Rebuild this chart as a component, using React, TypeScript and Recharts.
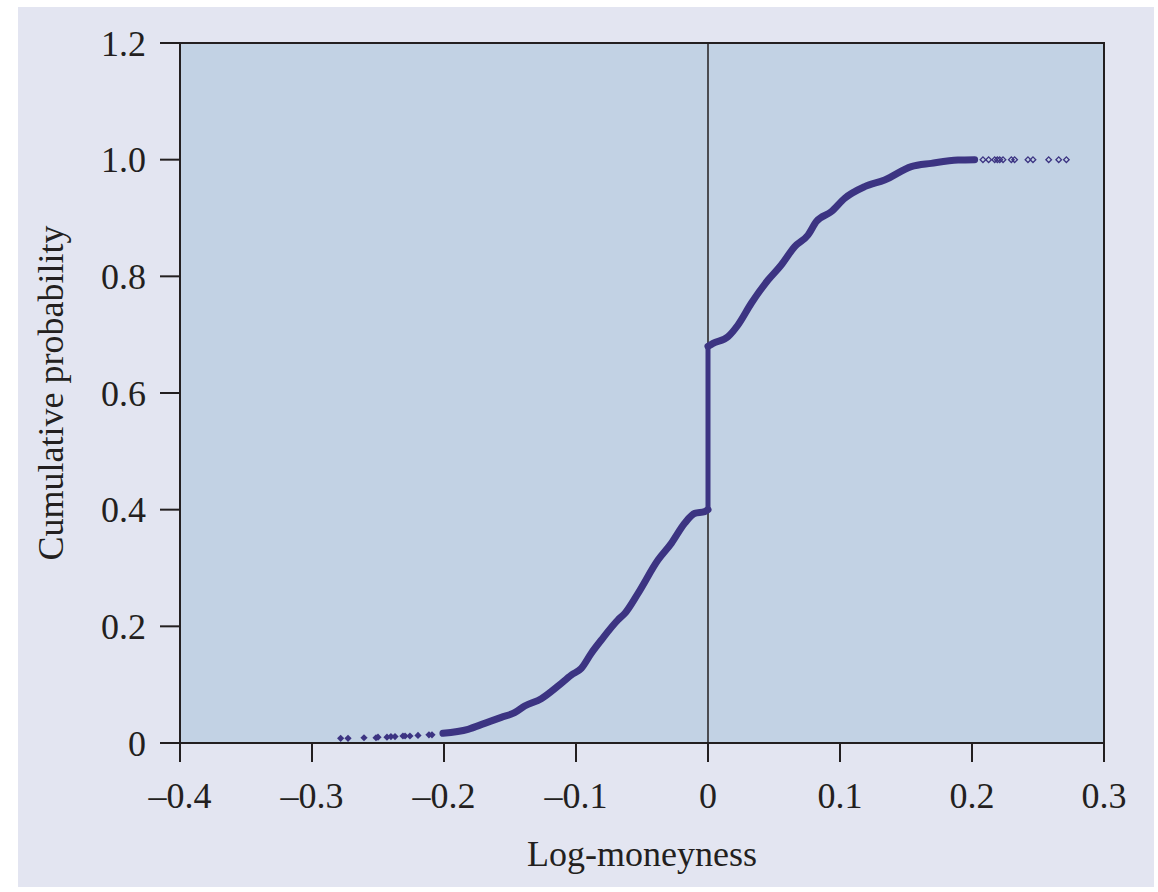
import React from "react";
import {
  ComposedChart,
  Line,
  Scatter,
  XAxis,
  YAxis,
  ReferenceLine,
  ReferenceArea,
} from "recharts";

// Lower body of the empirical cumulative distribution (below the jump at 0)
const lowerX = [
  -0.2008, -0.1818, -0.1692, -0.1566, -0.1465, -0.1389, -0.1263, -0.1136,
  -0.1035, -0.096, -0.0884, -0.0808, -0.0682, -0.0631, -0.053, -0.0379,
  -0.0278, -0.0177, -0.0101, -0.0025, 0,
];
const lowerP = [
  0.0166, 0.0235, 0.0337, 0.044, 0.052, 0.0634, 0.076, 0.0977, 0.1166, 0.128,
  0.154, 0.1766, 0.211, 0.222, 0.2566, 0.3137, 0.3423, 0.3766, 0.3937, 0.3966,
  0.4,
];

// Jump at log-moneyness 0
const jumpX = [0, 0];
const jumpP = [0.4, 0.68];

// Upper body (above the jump)
const upperX = [
  0, 0.0038, 0.0152, 0.0227, 0.0328, 0.0455, 0.0555, 0.0657, 0.0758, 0.082,
  0.0934, 0.1035, 0.1187, 0.1338, 0.154, 0.1692, 0.1894, 0.202,
];
const upperP = [
  0.68, 0.685, 0.6966, 0.7166, 0.7538, 0.7937, 0.8195, 0.851, 0.8709, 0.8937,
  0.9109, 0.9337, 0.9537, 0.9652, 0.988, 0.9937, 0.9994, 1.0,
];

// Sparse left tail (filled markers)
const leftTailX = [
  -0.2783, -0.2727, -0.2606, -0.2515, -0.25, -0.2432, -0.2402, -0.2371,
  -0.2311, -0.2295, -0.2258, -0.2197, -0.2114, -0.2091,
];
const leftTailP = [
  0.008, 0.008, 0.009, 0.009, 0.01, 0.01, 0.011, 0.011, 0.012, 0.012, 0.012,
  0.013, 0.014, 0.014,
];

// Sparse right tail (hollow markers)
const rightTailX = [
  0.2083, 0.2126, 0.2172, 0.2192, 0.221, 0.2235, 0.2298, 0.2323, 0.2424,
  0.2462, 0.2581, 0.2657, 0.2715,
];
const rightTailP = [1, 1, 1, 1, 1, 1, 1, 1, 1, 1, 1, 1, 1];

const xTicks = [-0.4, -0.3, -0.2, -0.1, 0, 0.1, 0.2, 0.3];
const xTickLabels = ["\u20130.4", "\u20130.3", "\u20130.2", "\u20130.1", "0", "0.1", "0.2", "0.3"];
const yTicks = [0, 0.2, 0.4, 0.6, 0.8, 1.0, 1.2];
const yTickLabels = ["0", "0.2", "0.4", "0.6", "0.8", "1.0", "1.2"];

const xLabel = "Log-moneyness";
const yLabel = "Cumulative probability";

const zip = (xs: number[], ps: number[]) => xs.map((x, i) => ({ x, p: ps[i] }));
const lowerData = zip(lowerX, lowerP);
const jumpData = zip(jumpX, jumpP);
const upperData = zip(upperX, upperP);
const leftData = zip(leftTailX, leftTailP);
const rightData = zip(rightTailX, rightTailP);

const INK = "#3c3482";
const FONT = "'Liberation Serif', 'Times New Roman', serif";
const TEXT = "#231f20";

const FilledDiamond = (props: any) => {
  const { cx, cy } = props;
  if (cx == null || cy == null) return null;
  const r = 3.6;
  return (
    <polygon
      points={`${cx},${cy - r} ${cx + r},${cy} ${cx},${cy + r} ${cx - r},${cy}`}
      fill={INK}
    />
  );
};

const HollowDiamond = (props: any) => {
  const { cx, cy } = props;
  if (cx == null || cy == null) return null;
  const r = 2.8;
  return (
    <polygon
      points={`${cx},${cy - r} ${cx + r},${cy} ${cx},${cy + r} ${cx - r},${cy}`}
      fill="none"
      stroke={INK}
      strokeWidth={1.3}
    />
  );
};

const fmt = (ticks: number[], labels: string[]) => (v: number) => {
  const i = ticks.findIndex((t) => Math.abs(t - v) < 1e-9);
  return i >= 0 ? labels[i] : String(v);
};

export default function App() {
  return (
    <div
      style={{
        position: "absolute",
        left: 18,
        top: 7,
        width: 1136,
        height: 880,
        background: "#e3e5f1",
      }}
    >
      <ComposedChart
        width={1136}
        height={880}
        margin={{ top: 36, right: 50, left: 0, bottom: 21 }}
      >
        <ReferenceArea
          x1={-0.4}
          x2={0.3}
          y1={0}
          y2={1.2}
          fill="#c2d2e4"
          fillOpacity={1}
          stroke="#231f20"
          strokeWidth={2}
          ifOverflow="visible"
        />
        <XAxis
          type="number"
          dataKey="x"
          domain={[-0.4, 0.3]}
          ticks={xTicks}
          allowDataOverflow
          height={123}
          tickSize={19}
          tickMargin={20}
          stroke="#231f20"
          strokeWidth={2}
          tick={{ fill: TEXT, fontSize: 36, fontFamily: FONT }}
          tickFormatter={fmt(xTicks, xTickLabels)}
          label={{
            value: xLabel,
            position: "insideBottom",
            offset: 0,
            fill: TEXT,
            fontSize: 36,
            fontFamily: FONT,
          }}
        />
        <YAxis
          type="number"
          dataKey="p"
          domain={[0, 1.2]}
          ticks={yTicks}
          allowDataOverflow
          width={162}
          tickSize={20}
          tickMargin={14}
          stroke="#231f20"
          strokeWidth={2}
          tick={{ fill: TEXT, fontSize: 36, fontFamily: FONT }}
          tickFormatter={fmt(yTicks, yTickLabels)}
          label={{
            value: yLabel,
            angle: -90,
            position: "insideLeft",
            offset: 37,
            dx: -5,
            style: { textAnchor: "middle" },
            fill: TEXT,
            fontSize: 36,
            fontFamily: FONT,
          }}
        />
        <ReferenceLine x={0} stroke="#231f20" strokeWidth={1.5} />
        <Line
          data={lowerData}
          dataKey="p"
          type="monotone"
          stroke={INK}
          strokeWidth={7}
          strokeLinejoin="round"
          strokeLinecap="round"
          dot={false}
          activeDot={false}
          isAnimationActive={false}
        />
        <Line
          data={jumpData}
          dataKey="p"
          type="linear"
          stroke={INK}
          strokeWidth={5}
          dot={false}
          activeDot={false}
          isAnimationActive={false}
        />
        <Line
          data={upperData}
          dataKey="p"
          type="monotone"
          stroke={INK}
          strokeWidth={7}
          strokeLinejoin="round"
          strokeLinecap="round"
          dot={false}
          activeDot={false}
          isAnimationActive={false}
        />
        <Scatter
          data={leftData}
          dataKey="p"
          shape={FilledDiamond}
          isAnimationActive={false}
        />
        <Scatter
          data={rightData}
          dataKey="p"
          shape={HollowDiamond}
          isAnimationActive={false}
        />
      </ComposedChart>
    </div>
  );
}
